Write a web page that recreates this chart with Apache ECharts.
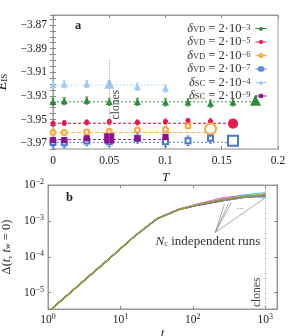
<!DOCTYPE html>
<html><head><meta charset="utf-8">
<script src="https://cdn.jsdelivr.net/npm/echarts@6/dist/echarts.min.js"></script>
<style>html,body{margin:0;padding:0;background:#fff}#c{width:299px;height:336px}</style>
</head><body><div id="c"></div>
<script>
// ---------- panel a : E_IS vs T ----------
const seriesNames = ['δVD = 2·10−3','δVD = 2·10−5','δVD = 2·10−6','δVD = 2·10−7','δSC = 2·10−4','δSC = 2·10−9'];
const T_VD3 = [0,0.01,0.03,0.05,0.075,0.1,0.12,0.14,0.16,0.18];
const E_VD3 = [-3.935,-3.9345,-3.934,-3.935,-3.935,-3.9355,-3.9355,-3.9365,-3.9355,-3.934];
const T_VD5 = [0,0.01,0.03,0.05,0.075,0.1,0.12,0.14,0.16];
const E_VD5 = [-3.9535,-3.953,-3.9525,-3.952,-3.9525,-3.9518,-3.9511,-3.9515,-3.9535];
const T_VD6 = [0,0.01,0.03,0.05,0.075,0.1,0.12,0.14];
const E_VD6 = [-3.961,-3.961,-3.9605,-3.960,-3.959,-3.9585,-3.9556,-3.958];
const T_VD7 = [0,0.01,0.03,0.05,0.075,0.1,0.12,0.14,0.16];
const E_VD7 = [-3.9694,-3.9697,-3.9683,-3.9689,-3.966,-3.9689,-3.968,-3.966,-3.968];
const T_SC4 = [0,0.01,0.03,0.05,0.075,0.1];
const E_SC4 = [-3.9208,-3.9203,-3.920,-3.920,-3.9223,-3.9237];
const T_SC9 = [0,0.01,0.03,0.05,0.075,0.1];
const E_SC9 = [-3.9675,-3.9675,-3.966,-3.966,-3.966,-3.9647];
const errBars = [0.003,0.002,0.002,0.004,0.003,0.002];
const fitLevels = [-3.935,-3.9533,-3.961,-3.9694,-3.9208,-3.9669];
const cloneT = [0.18,0.16,0.14,0.16,0.05,0.05];
const xTicksA = [0,0.05,0.1,0.15,0.2];
const yTicksA = [-3.97,-3.95,-3.93,-3.91,-3.89,-3.87];

// ---------- panel b : Delta(t, tw=0) ----------
const tRuns = [1,2,4,8,16,32,64,128,256,512,1000];
const run01 = [2.90e-6,9.80e-6,3.30e-5,1.12e-4,3.91e-4,1.16e-3,2.12e-3,3.00e-3,4.10e-3,5.30e-3,6.20e-3];
const run02 = [2.87e-6,9.75e-6,3.32e-5,1.13e-4,3.92e-4,1.17e-3,2.14e-3,3.10e-3,4.40e-3,5.10e-3,5.00e-3];
const run03 = [2.88e-6,9.78e-6,3.31e-5,1.11e-4,3.87e-4,1.14e-3,2.07e-3,2.90e-3,3.80e-3,4.60e-3,5.50e-3];
const run04 = [2.89e-6,9.77e-6,3.30e-5,1.12e-4,3.90e-4,1.15e-3,2.10e-3,2.95e-3,3.95e-3,5.00e-3,5.40e-3];
const run05 = [2.88e-6,9.76e-6,3.31e-5,1.12e-4,3.88e-4,1.14e-3,2.06e-3,2.85e-3,3.70e-3,4.50e-3,5.80e-3];
const run06 = [2.87e-6,9.77e-6,3.32e-5,1.12e-4,3.89e-4,1.15e-3,2.08e-3,2.90e-3,3.85e-3,4.70e-3,5.10e-3];
const run07 = [2.88e-6,9.79e-6,3.30e-5,1.11e-4,3.86e-4,1.13e-3,2.05e-3,2.80e-3,3.60e-3,4.60e-3,4.90e-3];
const run08 = [2.88e-6,9.77e-6,3.31e-5,1.12e-4,3.88e-4,1.14e-3,2.08e-3,2.90e-3,3.75e-3,4.80e-3,5.30e-3];
const run09 = [2.89e-6,9.78e-6,3.31e-5,1.12e-4,3.90e-4,1.16e-3,2.11e-3,3.05e-3,4.20e-3,4.90e-3,5.20e-3];
const run10 = [2.88e-6,9.76e-6,3.30e-5,1.12e-4,3.89e-4,1.15e-3,2.10e-3,3.00e-3,3.95e-3,5.10e-3,4.30e-3];
const run11 = [2.87e-6,9.77e-6,3.31e-5,1.13e-4,3.91e-4,1.16e-3,2.12e-3,3.10e-3,4.30e-3,4.60e-3,5.60e-3];
const run12 = [2.88e-6,9.78e-6,3.32e-5,1.12e-4,3.89e-4,1.15e-3,2.09e-3,2.95e-3,3.90e-3,4.75e-3,4.70e-3];
const run13 = [2.88e-6,9.77e-6,3.30e-5,1.11e-4,3.87e-4,1.14e-3,2.06e-3,2.85e-3,3.65e-3,4.40e-3,5.00e-3];
const run14 = [2.88e-6,9.77e-6,3.31e-5,1.12e-4,3.89e-4,1.15e-3,2.09e-3,2.95e-3,3.90e-3,4.85e-3,5.35e-3];
const runs = [run01,run02,run03,run04,run05,run06,run07,run08,run09,run10,run11,run12,run13,run14];
const clonesTime = 1000;

// ---------- styling ----------
const FONT = 'Liberation Serif';
const groupColors = ['#2e8b3a','#e6194b','#ffa733','#4a78d0','#9ec9f5','#8e128e'];
const groupSymbols = ['triangle','circle','emptyCircle','emptyRect','triangle','rect'];
const smallSize = [5,4,5,5,5,5];
const bigSize = [9,9,11,10,8,9];
const fitDash = [[2,2],[3,2],[4,2],[2,2],[1.5,2],[3,2]];
const runColors = ['#4dd0e1','#e040fb','#f2d43a','#43a047','#fb8c00','#e53935','#1e3fb0','#222222','#7e57c2','#90caf9','#f48fb1','#26a69a','#a1887f','#9e9d24'];

const groupsT = [T_VD3,T_VD5,T_VD6,T_VD7,T_SC4,T_SC9];
const groupsE = [E_VD3,E_VD5,E_VD6,E_VD7,E_SC4,E_SC9];

const series = [];
groupsT.forEach((T, g) => {
  series.push({
    type:'line', name:'fit'+g, xAxisIndex:0, yAxisIndex:0, symbol:'none', silent:true,
    data:[[0, fitLevels[g]],[T[T.length-1], fitLevels[g]]],
    lineStyle:{color:groupColors[g], width:1.1, type:fitDash[g], opacity:0.85},
    z:1
  });
});
series[0].markLine = {
  silent:true, symbol:['none','none'],
  lineStyle:{color:'#999', type:[1,1.5], width:1},
  label:{show:true, formatter:'clones', position:'insideMiddleBottom', fontFamily:FONT, fontSize:11.5, color:'#444', distance:1},
  data:[[{coord:[0.05,-3.975]},{coord:[0.05,-3.90]}]]
};
groupsT.forEach((T, g) => {
  const col = groupColors[g];
  series.push({
    type:'custom', name:'err'+g, xAxisIndex:0, yAxisIndex:0, silent:true, z:2,
    data: T.map((t,i)=>[t, groupsE[g][i], errBars[g]]),
    encode:{x:0,y:1},
    renderItem:(params, api)=>{
      const x = api.value(0), y = api.value(1), e = api.value(2);
      const a = api.coord([x, y+e]), b = api.coord([x, y-e]);
      const c = 1.5;
      const st = {stroke:col, lineWidth:1};
      return {type:'group', children:[
        {type:'line', shape:{x1:a[0],y1:a[1],x2:b[0],y2:b[1]}, style:st},
        {type:'line', shape:{x1:a[0]-c,y1:a[1],x2:a[0]+c,y2:a[1]}, style:st},
        {type:'line', shape:{x1:b[0]-c,y1:b[1],x2:b[0]+c,y2:b[1]}, style:st}
      ]};
    }
  });
});
groupsT.forEach((T, g) => {
  const col = groupColors[g];
  series.push({
    type:'line', name:seriesNames[g], xAxisIndex:0, yAxisIndex:0, z:3,
    symbol:groupSymbols[g], symbolSize:smallSize[g], showAllSymbol:true,
    itemStyle:{color:col, borderColor:col, borderWidth:1.2},
    lineStyle:{opacity:0, width:1, color:col},
    data: T.map((t,i)=> (Math.abs(t-cloneT[g])<1e-9) ? {value:[t, groupsE[g][i]], symbolSize:bigSize[g]} : [t, groupsE[g][i]])
  });
});
runs.forEach((r, k) => {
  series.push({
    type:'line', name:'run'+k, xAxisIndex:2, yAxisIndex:2, symbol:'none', silent:true,
    lineStyle:{color:runColors[k], width:1.1}, z:2,
    data: tRuns.map((t,i)=>[t, r[i]])
  });
});
const runBase = series.length - runs.length;
series[runBase].markLine = {
  silent:true, symbol:['none','none'],
  lineStyle:{color:'#999', type:[1,1.5], width:1},
  label:{show:true, formatter:'clones', position:'insideStartTop', fontFamily:FONT, fontSize:11.5, color:'#444', distance:2},
  data:[[{coord:[clonesTime,3.5e-6]},{coord:[clonesTime,0.01]}]]
};
series[runBase+1].markLine = {
  silent:true, symbol:['none','arrow'], symbolSize:[0,4],
  lineStyle:{color:'#888', type:'solid', width:0.7},
  label:{show:false},
  data:[
    [{coord:[204,4.8e-4]},{coord:[272,2.87e-3]}],
    [{coord:[204,4.8e-4]},{coord:[309,3.06e-3]}],
    [{coord:[204,4.8e-4]},{coord:[340,3.16e-3]}],
    [{coord:[204,4.8e-4]},{coord:[972,4.22e-3]}]
  ]
};

const frame = '#9a9a9a';
const tickCol = '#888';
function supLabel(v){
  const l = Math.log10(v), e = Math.round(l);
  if (Math.abs(l-e) > 1e-6) return '';
  return '{b|10}{e|' + (e<0 ? '−'+(-e) : e) + '}';
}
const supRich = {
  b:{fontFamily:FONT, fontSize:11.5, lineHeight:14, color:'#222'},
  e:{fontFamily:FONT, fontSize:8, lineHeight:7, verticalAlign:'top', color:'#222'}
};
const isTickA = v => yTicksA.some(t => Math.abs(t-v)<1e-9);
const isTickX = v => xTicksA.some(t => Math.abs(t-v)<1e-9);

const option = {
  animation:false,
  backgroundColor:'#fff',
  grid:[
    {left:53, right:21, top:15, bottom:187, show:true, borderColor:frame, borderWidth:1, containLabel:false, outerBoundsMode:'none'},
    {left:48, right:22, top:185, bottom:27, show:true, borderColor:frame, borderWidth:1, containLabel:false, outerBoundsMode:'none'}
  ],
  legend:{
    orient:'vertical', right:27, top:17, align:'right', itemWidth:11, itemHeight:4, itemGap:0.5,
    data:seriesNames, selectedMode:false,
    lineStyle:{width:1, opacity:1, type:'solid'},
    itemStyle:{borderWidth:1},
    formatter: name => {
      const m = name.match(/^δ(\w+) = 2·10(.+)$/);
      return '{d|δ}{s|' + m[1] + '}{n| = 2·10}{p|' + m[2] + '}';
    },
    textStyle:{fontFamily:FONT, fontSize:12, color:'#333', padding:[0,0,0,0],
      rich:{
        d:{fontFamily:FONT, fontSize:12.5, fontStyle:'italic', lineHeight:11, color:'#333'},
        s:{fontFamily:FONT, fontSize:8.5, lineHeight:6, verticalAlign:'bottom', color:'#333'},
        n:{fontFamily:FONT, fontSize:12.5, lineHeight:11, color:'#333'},
        p:{fontFamily:FONT, fontSize:8.5, lineHeight:6, verticalAlign:'top', color:'#333'}
      }}
  },
  xAxis:[
    {type:'value', gridIndex:0, min:0, max:0.2, interval:0.05, position:'bottom',
     name:'T', nameLocation:'middle', nameGap:22,
     nameTextStyle:{fontFamily:FONT, fontSize:13, fontStyle:'italic', color:'#222'},
     axisLine:{show:true, lineStyle:{color:'#c4c4c4', width:2}},
     axisTick:{show:true, inside:true, length:3, lineStyle:{color:tickCol}},
     axisLabel:{fontFamily:FONT, fontSize:11.5, color:'#222', margin:6, formatter:v=> isTickX(v)? String(+v.toFixed(3)) : ''},
     splitLine:{show:false}},
    {type:'value', gridIndex:0, min:0, max:0.2, interval:0.05, position:'top',
     axisLine:{show:true, lineStyle:{color:frame}}, axisTick:{show:true, inside:true, length:3, lineStyle:{color:tickCol}},
     axisLabel:{show:false}, splitLine:{show:false}},
    {type:'log', gridIndex:1, min:1, max:1450, splitNumber:3, position:'bottom',
     name:'t', nameLocation:'middle', nameGap:16,
     nameTextStyle:{fontFamily:FONT, fontSize:13, fontStyle:'italic', color:'#222'},
     axisLine:{show:true, lineStyle:{color:frame}},
     axisTick:{show:true, inside:true, length:3, lineStyle:{color:tickCol}},
     axisLabel:{margin:4, formatter:supLabel, rich:supRich, showMinLabel:true, showMaxLabel:true},
     splitLine:{show:false}},
    {type:'log', gridIndex:1, min:1, max:1450, splitNumber:3, position:'top',
     axisLine:{show:true, lineStyle:{color:frame}}, axisTick:{show:true, inside:true, length:3, lineStyle:{color:tickCol}},
     axisLabel:{show:false}, splitLine:{show:false}}
  ],
  yAxis:[
    {type:'value', gridIndex:0, min:-3.975, max:-3.8615, interval:0.005, position:'left',
     name:'{i|E}{s|IS}', nameLocation:'middle', nameGap:35,
     nameTextStyle:{rich:{
       i:{fontFamily:FONT, fontSize:14, fontStyle:'italic', color:'#222', lineHeight:14},
       s:{fontFamily:FONT, fontSize:9, color:'#222', lineHeight:8, verticalAlign:'bottom'}}},
     axisLine:{show:true, lineStyle:{color:frame}},
     axisTick:{show:true, inside:true, length:3, lineStyle:{color:tickCol}, interval:(i,v)=>isTickA(+v)},
     axisLabel:{fontFamily:FONT, fontSize:11.5, color:'#222', margin:6,
       interval:(i,v)=>isTickA(+v),
       formatter:v=> isTickA(v) ? '−'+Math.abs(v).toFixed(2) : ''},
     splitLine:{show:false}},
    {type:'value', gridIndex:0, min:-3.975, max:-3.8615, interval:0.005, position:'right',
     axisLine:{show:true, lineStyle:{color:frame}},
     axisTick:{show:true, inside:true, length:3, lineStyle:{color:tickCol}, interval:(i,v)=>isTickA(+v)},
     axisLabel:{show:false}, splitLine:{show:false}},
    {type:'log', gridIndex:1, min:3.5e-6, max:0.01, splitNumber:3, position:'left',
     name:'{n|Δ(}{i|t}{n|, }{i|t}{s|w}{n| = 0)}', nameLocation:'middle', nameGap:32,
     nameTextStyle:{rich:{
       n:{fontFamily:FONT, fontSize:12.5, color:'#222', lineHeight:12},
       i:{fontFamily:FONT, fontSize:12.5, fontStyle:'italic', color:'#222', lineHeight:12},
       s:{fontFamily:FONT, fontSize:8.5, fontStyle:'italic', color:'#222', lineHeight:6, verticalAlign:'bottom'}}},
     axisLine:{show:true, lineStyle:{color:frame}},
     axisTick:{show:true, inside:true, length:3, lineStyle:{color:tickCol}},
     axisLabel:{margin:4, formatter:supLabel, rich:supRich},
     splitLine:{show:false}},
    {type:'log', gridIndex:1, min:3.5e-6, max:0.01, splitNumber:3, position:'right',
     axisLine:{show:true, lineStyle:{color:frame}}, axisTick:{show:true, inside:true, length:3, lineStyle:{color:tickCol}},
     axisLabel:{show:false}, splitLine:{show:false}}
  ],
  graphic:[
    {type:'text', left:75, top:19, style:{text:'a', fontFamily:FONT, fontSize:12.5, fontWeight:'bold', fill:'#222'}},
    {type:'text', left:66, top:191, style:{text:'b', fontFamily:FONT, fontSize:12.5, fontWeight:'bold', fill:'#222'}},
    {type:'text', x:208, y:242, style:{text:'{i|N}{s|c}{n| independent runs}', align:'center', verticalAlign:'middle',
      rich:{i:{fontFamily:FONT, fontSize:13, fontStyle:'italic', fill:'#333', lineHeight:12},
            s:{fontFamily:FONT, fontSize:8.5, fill:'#333', lineHeight:6, verticalAlign:'bottom'},
            n:{fontFamily:FONT, fontSize:13, fill:'#333', lineHeight:12}}}},
    {type:'text', x:240, y:207, style:{text:'...', align:'center', verticalAlign:'middle', fontFamily:FONT, fontSize:9, fill:'#555'}}
  ],
  series: series
};
const chart = echarts.init(document.getElementById('c'), null, {renderer:'canvas'});
chart.setOption(option);
</script>
</body></html>
